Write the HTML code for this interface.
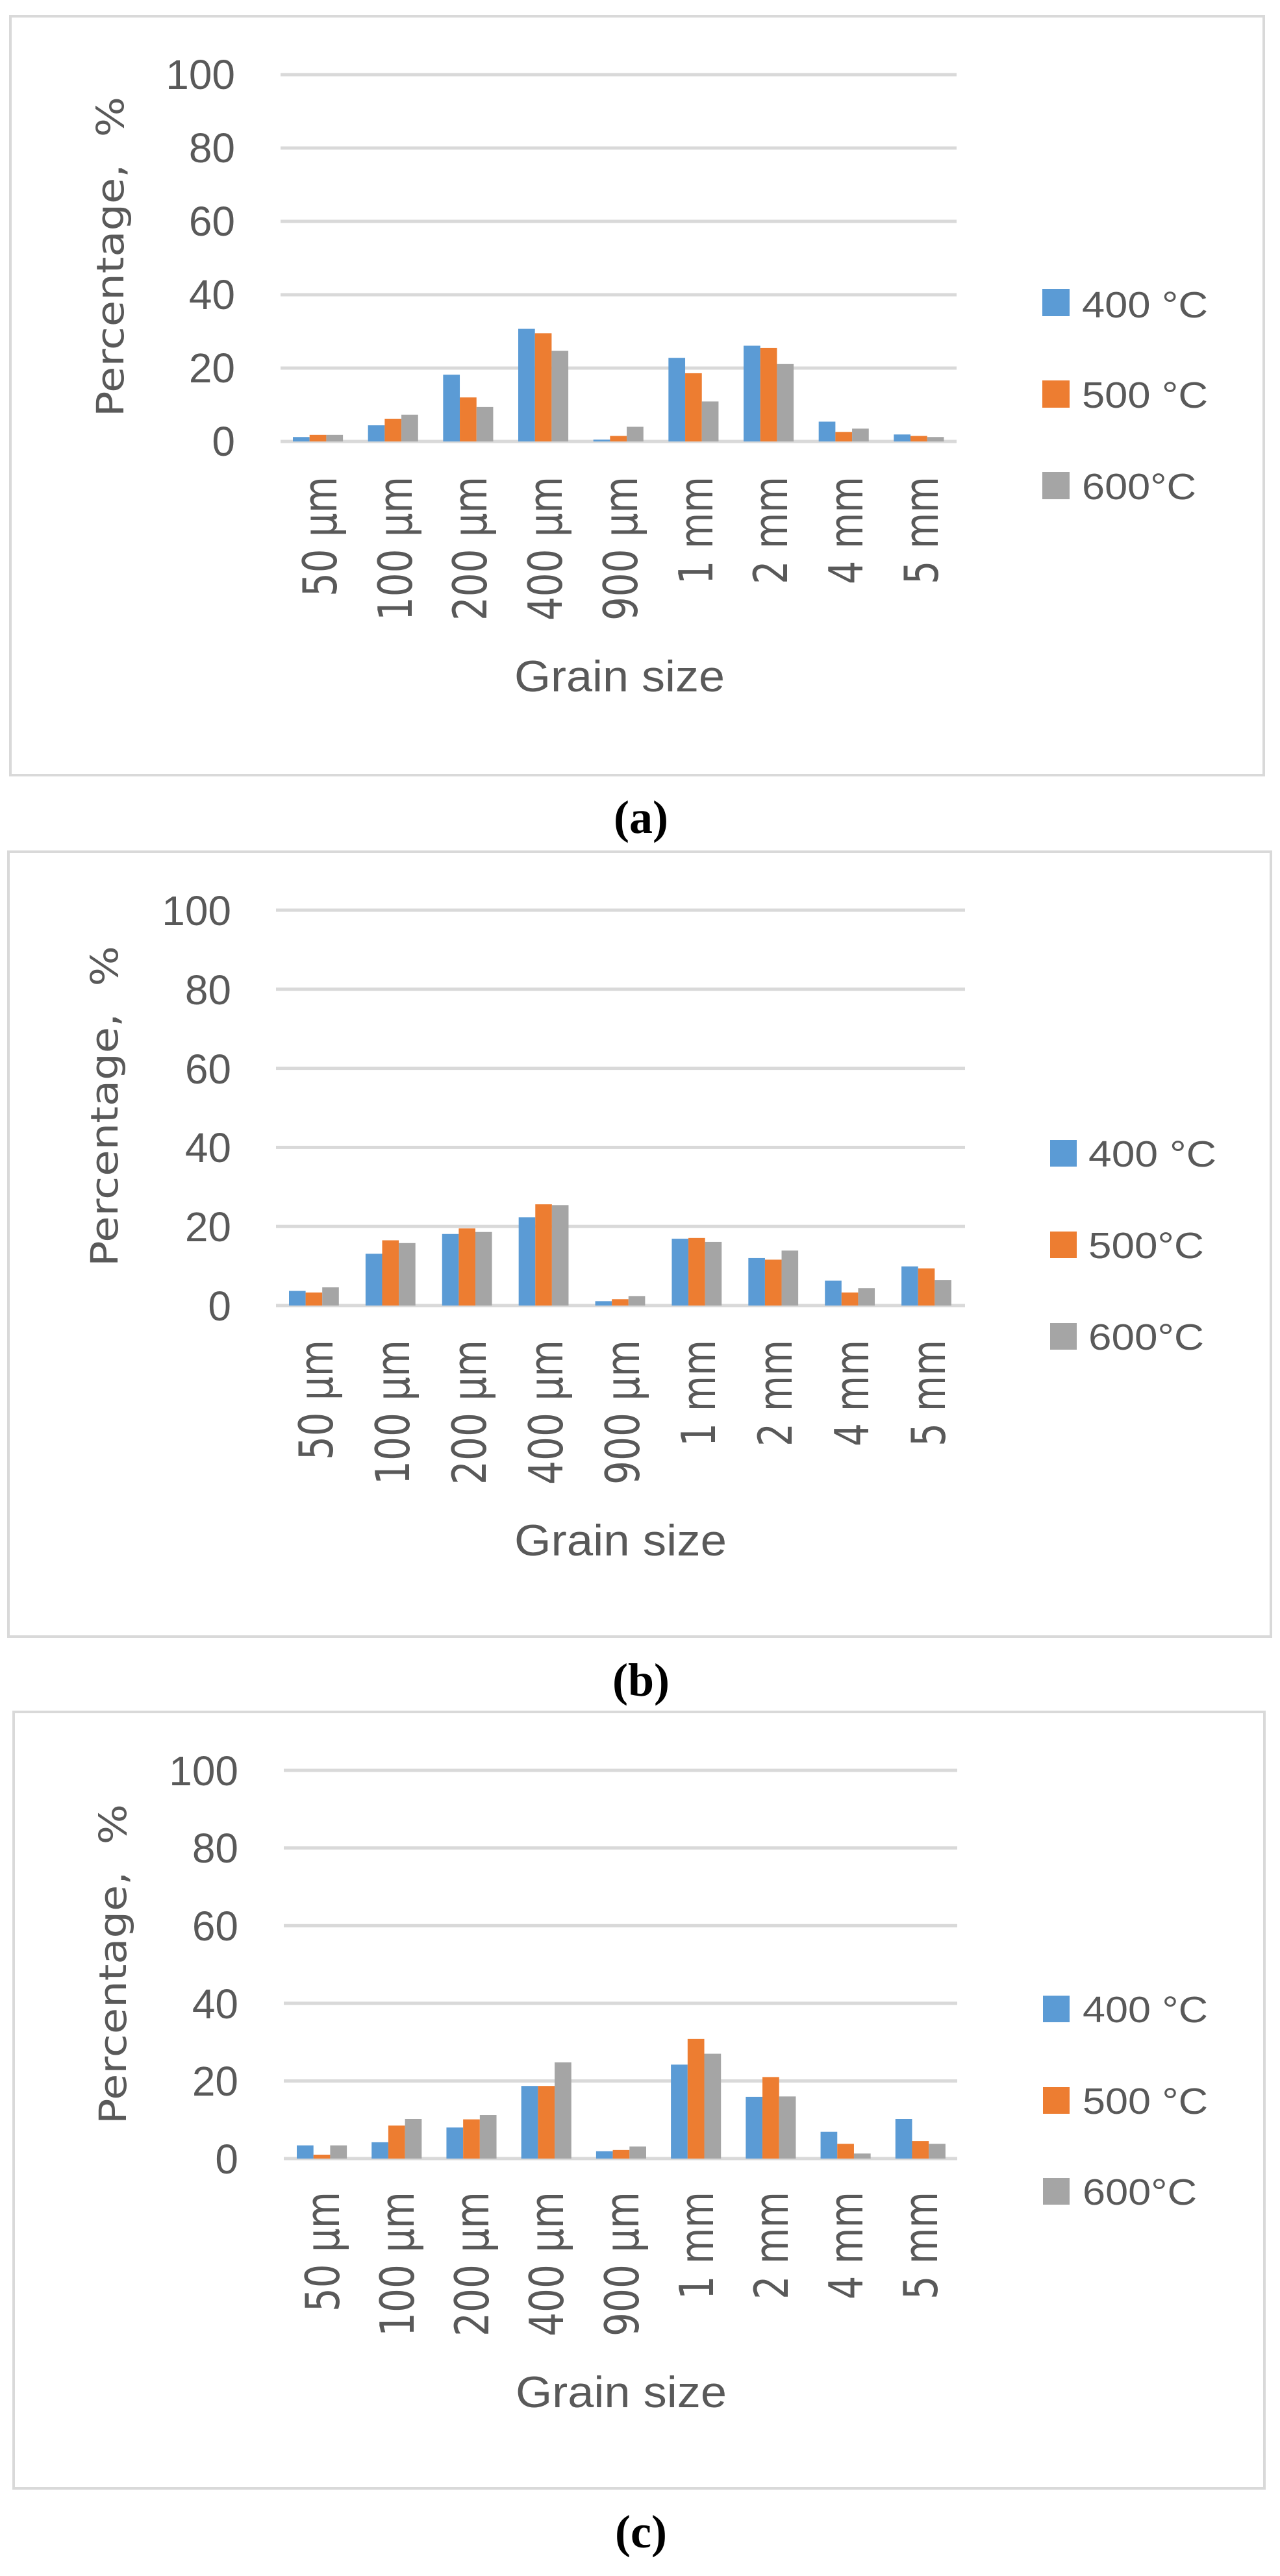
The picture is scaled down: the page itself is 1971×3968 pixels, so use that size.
<!DOCTYPE html>
<html><head><meta charset="utf-8"><style>
html,body{margin:0;padding:0;background:#fff;}
svg{display:block;}
.t{font-family:"Liberation Sans",sans-serif;fill:#595959;}
.d{font-family:"DejaVu Sans","Liberation Sans",sans-serif;fill:#595959;}
.cap{font-family:"Liberation Serif",serif;font-weight:bold;fill:#000;}
</style></head><body>
<svg id="s" width="1971" height="3968" viewBox="0 0 1971 3968" xmlns="http://www.w3.org/2000/svg">
<rect width="1971" height="3968" fill="#fff"/>
<rect x="16" y="25" width="1930" height="1169" fill="none" stroke="#D9D9D9" stroke-width="4"/>
<rect x="13" y="1312" width="1944" height="1209" fill="none" stroke="#D9D9D9" stroke-width="4"/>
<rect x="21" y="2637" width="1926" height="1196" fill="none" stroke="#D9D9D9" stroke-width="4"/>
<g id="grid"></g>
<g id="bars"></g>

<!-- Chart a -->
<g class="t" font-size="64" text-anchor="end">
<text x="362" y="137">100</text><text x="362" y="250">80</text><text x="362" y="363">60</text><text x="362" y="476">40</text><text x="362" y="589">20</text><text x="362" y="702">0</text>
</g>
<text class="d" font-size="58" transform="translate(190,642) rotate(-90)" textLength="493" lengthAdjust="spacingAndGlyphs">Percentage,&#160;&#160;%</text>
<g class="d" font-size="72" text-anchor="end">
<text transform="translate(518,734) rotate(-90)" textLength="185" lengthAdjust="spacingAndGlyphs">50 µm</text>
<text transform="translate(634,734) rotate(-90)" textLength="222" lengthAdjust="spacingAndGlyphs">100 µm</text>
<text transform="translate(749,734) rotate(-90)" textLength="222" lengthAdjust="spacingAndGlyphs">200 µm</text>
<text transform="translate(865,734) rotate(-90)" textLength="222" lengthAdjust="spacingAndGlyphs">400 µm</text>
<text transform="translate(981,734) rotate(-90)" textLength="222" lengthAdjust="spacingAndGlyphs">900 µm</text>
<text transform="translate(1097,734) rotate(-90)" textLength="166" lengthAdjust="spacingAndGlyphs">1 mm</text>
<text transform="translate(1212,734) rotate(-90)" textLength="166" lengthAdjust="spacingAndGlyphs">2 mm</text>
<text transform="translate(1328,734) rotate(-90)" textLength="166" lengthAdjust="spacingAndGlyphs">4 mm</text>
<text transform="translate(1444,734) rotate(-90)" textLength="166" lengthAdjust="spacingAndGlyphs">5 mm</text>
</g>
<text class="t" font-size="68" x="792" y="1065" textLength="324" lengthAdjust="spacingAndGlyphs">Grain size</text>
<rect x="1605" y="445" width="42" height="42" fill="#5B9BD5"/>
<rect x="1605" y="586" width="42" height="42" fill="#ED7D31"/>
<rect x="1605" y="727" width="42" height="42" fill="#A5A5A5"/>
<g class="t" font-size="57">
<text x="1666" y="489" textLength="194" lengthAdjust="spacingAndGlyphs">400 °C</text>
<text x="1666" y="628" textLength="194" lengthAdjust="spacingAndGlyphs">500 °C</text>
<text x="1666" y="769" textLength="176" lengthAdjust="spacingAndGlyphs">600°C</text>
</g>
<text class="cap" font-size="72" x="987" y="1283" text-anchor="middle">(a)</text>

<!-- Chart b -->
<g class="t" font-size="64" text-anchor="end">
<text x="356" y="1425">100</text><text x="356" y="1547">80</text><text x="356" y="1669">60</text><text x="356" y="1790">40</text><text x="356" y="1912">20</text><text x="356" y="2034">0</text>
</g>
<text class="d" font-size="58" transform="translate(181,1951) rotate(-90)" textLength="494" lengthAdjust="spacingAndGlyphs">Percentage,&#160;&#160;%</text>
<g class="d" font-size="72" text-anchor="end">
<text transform="translate(512,2064) rotate(-90)" textLength="185" lengthAdjust="spacingAndGlyphs">50 µm</text>
<text transform="translate(630,2064) rotate(-90)" textLength="223" lengthAdjust="spacingAndGlyphs">100 µm</text>
<text transform="translate(748,2064) rotate(-90)" textLength="223" lengthAdjust="spacingAndGlyphs">200 µm</text>
<text transform="translate(866,2064) rotate(-90)" textLength="223" lengthAdjust="spacingAndGlyphs">400 µm</text>
<text transform="translate(984,2064) rotate(-90)" textLength="223" lengthAdjust="spacingAndGlyphs">900 µm</text>
<text transform="translate(1101,2064) rotate(-90)" textLength="164" lengthAdjust="spacingAndGlyphs">1 mm</text>
<text transform="translate(1219,2064) rotate(-90)" textLength="164" lengthAdjust="spacingAndGlyphs">2 mm</text>
<text transform="translate(1337,2064) rotate(-90)" textLength="164" lengthAdjust="spacingAndGlyphs">4 mm</text>
<text transform="translate(1455,2064) rotate(-90)" textLength="164" lengthAdjust="spacingAndGlyphs">5 mm</text>
</g>
<text class="t" font-size="68" x="792" y="2396" textLength="327" lengthAdjust="spacingAndGlyphs">Grain size</text>
<rect x="1617" y="1756" width="41" height="41" fill="#5B9BD5"/>
<rect x="1617" y="1897" width="41" height="41" fill="#ED7D31"/>
<rect x="1617" y="2038" width="41" height="41" fill="#A5A5A5"/>
<g class="t" font-size="57">
<text x="1676" y="1797" textLength="197" lengthAdjust="spacingAndGlyphs">400 °C</text>
<text x="1676" y="1938" textLength="178" lengthAdjust="spacingAndGlyphs">500°C</text>
<text x="1676" y="2079" textLength="178" lengthAdjust="spacingAndGlyphs">600°C</text>
</g>
<text class="cap" font-size="72" x="987" y="2612" text-anchor="middle">(b)</text>

<!-- Chart c -->
<g class="t" font-size="64" text-anchor="end">
<text x="367" y="2750">100</text><text x="367" y="2869">80</text><text x="367" y="2989">60</text><text x="367" y="3109">40</text><text x="367" y="3228">20</text><text x="367" y="3348">0</text>
</g>
<text class="d" font-size="58" transform="translate(194,3272) rotate(-90)" textLength="493" lengthAdjust="spacingAndGlyphs">Percentage,&#160;&#160;%</text>
<g class="d" font-size="72" text-anchor="end">
<text transform="translate(522,3376) rotate(-90)" textLength="185" lengthAdjust="spacingAndGlyphs">50 µm</text>
<text transform="translate(637,3376) rotate(-90)" textLength="223" lengthAdjust="spacingAndGlyphs">100 µm</text>
<text transform="translate(752,3376) rotate(-90)" textLength="223" lengthAdjust="spacingAndGlyphs">200 µm</text>
<text transform="translate(867,3376) rotate(-90)" textLength="223" lengthAdjust="spacingAndGlyphs">400 µm</text>
<text transform="translate(983,3376) rotate(-90)" textLength="223" lengthAdjust="spacingAndGlyphs">900 µm</text>
<text transform="translate(1098,3376) rotate(-90)" textLength="166" lengthAdjust="spacingAndGlyphs">1 mm</text>
<text transform="translate(1213,3376) rotate(-90)" textLength="166" lengthAdjust="spacingAndGlyphs">2 mm</text>
<text transform="translate(1328,3376) rotate(-90)" textLength="166" lengthAdjust="spacingAndGlyphs">4 mm</text>
<text transform="translate(1443,3376) rotate(-90)" textLength="166" lengthAdjust="spacingAndGlyphs">5 mm</text>
</g>
<text class="t" font-size="68" x="794" y="3708" textLength="325" lengthAdjust="spacingAndGlyphs">Grain size</text>
<rect x="1606" y="3074" width="41" height="41" fill="#5B9BD5"/>
<rect x="1606" y="3215" width="41" height="41" fill="#ED7D31"/>
<rect x="1606" y="3355" width="41" height="41" fill="#A5A5A5"/>
<g class="t" font-size="57">
<text x="1667" y="3115" textLength="193" lengthAdjust="spacingAndGlyphs">400 °C</text>
<text x="1667" y="3256" textLength="193" lengthAdjust="spacingAndGlyphs">500 °C</text>
<text x="1667" y="3396" textLength="176" lengthAdjust="spacingAndGlyphs">600°C</text>
</g>
<text class="cap" font-size="72" x="987" y="3924" text-anchor="middle">(c)</text>
</svg>
<script>
(function(){
var NS="http://www.w3.org/2000/svg";
var charts=[
 {x0:432,x1:1473,zero:680,ppu:5.65,off:19,bw:25.7,
  v:[[1.2,1.8,1.8],[4.4,6.2,7.3],[18.2,12,9.4],[30.7,29.5,24.7],[0.5,1.5,4],[22.8,18.6,10.9],[26.1,25.5,21.1],[5.4,2.6,3.5],[1.9,1.5,1.2]]},
 {x0:425,x1:1486,zero:2011,ppu:6.09,off:20,bw:25.6,
  v:[[3.7,3.3,4.6],[13.1,16.5,15.8],[18.1,19.5,18.6],[22.3,25.6,25.4],[1.1,1.6,2.4],[16.9,17.1,16.1],[12,11.6,13.9],[6.3,3.3,4.4],[9.9,9.4,6.4]]},
 {x0:437,x1:1474,zero:3325,ppu:5.98,off:20,bw:25.7,
  v:[[3.4,1,3.4],[4.2,8.5,10.2],[8,10.1,11.2],[18.7,18.7,24.8],[1.9,2.2,3.1],[24.2,30.8,27],[15.9,21,16],[6.9,3.8,1.3],[10.2,4.5,3.8]]}
];
var cols=["#5B9BD5","#ED7D31","#A5A5A5"];
var g=document.getElementById("grid"),b=document.getElementById("bars");
charts.forEach(function(c){
 var cw=(c.x1-c.x0)/9;
 for(var k=0;k<=5;k++){
  var y=c.zero-k*20*c.ppu;
  var r=document.createElementNS(NS,"rect");
  r.setAttribute("x",c.x0);r.setAttribute("y",y-2.5);r.setAttribute("width",c.x1-c.x0);r.setAttribute("height",5);r.setAttribute("fill","#D9D9D9");
  g.appendChild(r);
 }
 c.v.forEach(function(vals,i){
  vals.forEach(function(val,j){
   var h=val*c.ppu;
   var r=document.createElementNS(NS,"rect");
   r.setAttribute("x",c.x0+i*cw+c.off+j*c.bw);r.setAttribute("y",c.zero-h);
   r.setAttribute("width",c.bw);r.setAttribute("height",h);r.setAttribute("fill",cols[j]);
   b.appendChild(r);
  });
 });
});
})();
</script>
</body></html>
